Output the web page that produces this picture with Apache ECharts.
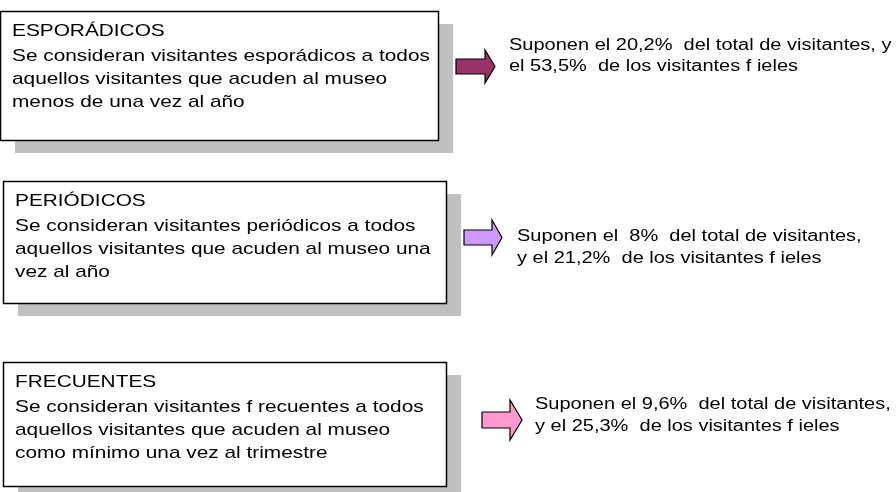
<!DOCTYPE html>
<html>
<head>
<meta charset="utf-8">
<script src="https://cdn.jsdelivr.net/npm/echarts@6/dist/echarts.min.js"></script>
<style>html,body{margin:0;padding:0;background:#fff}#c{width:896px;height:492px}</style>
</head>
<body>
<div id="c"></div>
<script>
// ---- data ----
const categories = ['ESPORÁDICOS', 'PERIÓDICOS', 'FRECUENTES'];
const descriptions = [
  ['Se consideran visitantes esporádicos a todos', 'aquellos visitantes que acuden al museo', 'menos de una vez al año'],
  ['Se consideran visitantes periódicos a todos', 'aquellos visitantes que acuden al museo una', 'vez al año'],
  ['Se consideran visitantes f recuentes a todos', 'aquellos visitantes que acuden al museo', 'como mínimo una vez al trimestre']
];
const pctTotal = ['20,2', '8', '9,6'];
const pctFieles = ['53,5', '21,2', '25,3'];
const arrowColors = ['#993366', '#CC99FF', '#FF99CC'];

// ---- layout ----
const boxes = [
  {x: 0, y: 11, w: 438, h: 129},
  {x: 3, y: 181, w: 443, h: 122},
  {x: 3, y: 362, w: 443, h: 124}
];
const lineOffsets = [20, 45, 68, 91];
const arrows = [
  {x: 456, y: 50, sw: 29, hw: 10, sh: 15, hh: 33},
  {x: 464, y: 220, sw: 28, hw: 10, sh: 15, hh: 35},
  {x: 482, y: 400, sw: 28, hw: 12, sh: 16, hh: 40}
];
const rightText = [
  {x: 509, y1: 46, y2: 67, brk: ', y'},
  {x: 517, y1: 237, y2: 259, brk: ','},
  {x: 535, y1: 405, y2: 427, brk: ','}
];
const FONT = '"Liberation Sans", Arial, sans-serif';
const LEFT_SCALE = 1.225;
const RIGHT_SCALE = 1.25;

const elements = [];
categories.forEach((cat, i) => {
  const b = boxes[i];
  elements.push({type: 'rect', shape: {x: b.x + 15, y: b.y + 13, width: b.w, height: b.h}, style: {fill: '#C0C0C0'}, z: 1});
  elements.push({type: 'rect', shape: {x: b.x + 0.5, y: b.y + 0.5, width: b.w, height: b.h}, style: {fill: '#fff', stroke: '#000', lineWidth: 1.5}, z: 2});
  const lines = [cat].concat(descriptions[i]);
  lines.forEach((t, k) => {
    elements.push({type: 'text', x: b.x + 12, y: b.y + lineOffsets[k], z: 3, scaleX: LEFT_SCALE,
      style: {text: t, fill: '#000', font: '17px ' + FONT, textVerticalAlign: 'middle'}});
  });
  const a = arrows[i];
  const cy = a.y + a.hh / 2;
  elements.push({type: 'polygon', z: 3, shape: {points: [
    [a.x, cy - a.sh / 2], [a.x + a.sw, cy - a.sh / 2], [a.x + a.sw, a.y], [a.x + a.sw + a.hw, cy],
    [a.x + a.sw, a.y + a.hh], [a.x + a.sw, cy + a.sh / 2], [a.x, cy + a.sh / 2]]},
    style: {fill: arrowColors[i], stroke: '#000', lineWidth: 1.2}});
  const r = rightText[i];
  const l1 = (i === 1 ? 'Suponen el  ' : 'Suponen el ') + pctTotal[i] + '%  del total de visitantes' + r.brk;
  const l2 = (i === 0 ? 'el ' : 'y el ') + pctFieles[i] + '%  de los visitantes f ieles';
  [[l1, r.y1], [l2, r.y2]].forEach(([t, y]) => {
    elements.push({type: 'text', x: r.x, y: y, z: 3, scaleX: RIGHT_SCALE,
      style: {text: t, fill: '#000', font: '16px ' + FONT, textVerticalAlign: 'middle'}});
  });
});

const chart = echarts.init(document.getElementById('c'), null, {renderer: 'canvas'});
chart.setOption({backgroundColor: '#fff', animation: false, graphic: {elements: elements}});
</script>
</body>
</html>
